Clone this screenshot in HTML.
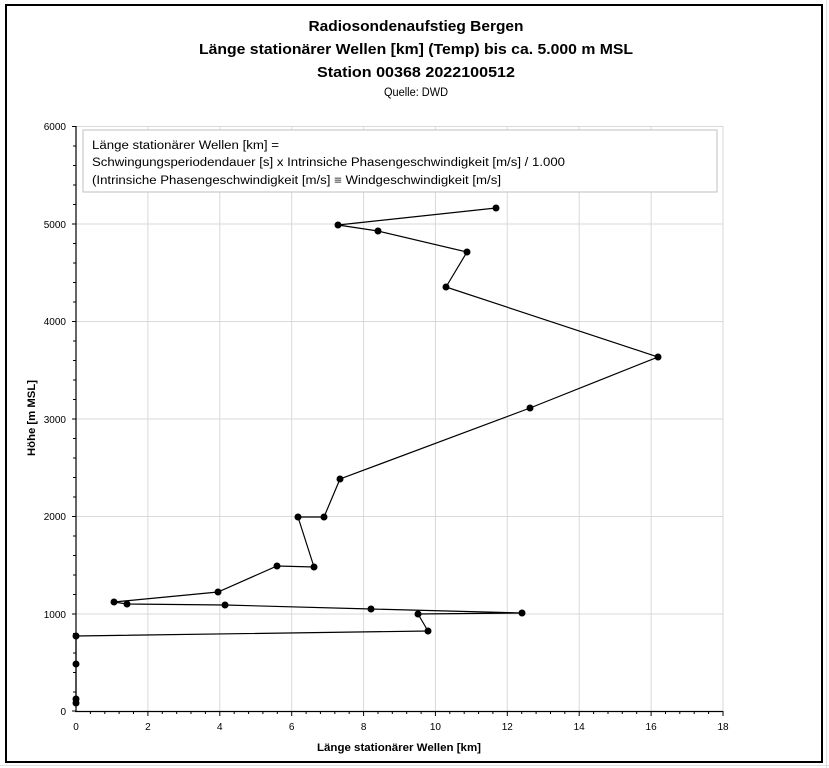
<!DOCTYPE html>
<html><head><meta charset="utf-8"><style>
html,body{margin:0;padding:0;background:#fff;}
svg{display:block;font-family:"Liberation Sans",sans-serif;}
</style></head><body>
<svg width="829" height="768" viewBox="0 0 829 768" xmlns="http://www.w3.org/2000/svg">
<rect x="0" y="0" width="829" height="768" fill="#fff"/>
<g stroke="#e2e2e2" stroke-width="1">
<line x1="0" y1="765.5" x2="829" y2="765.5"/>
<line x1="826.5" y1="0" x2="826.5" y2="768"/>
</g>
<rect x="6" y="5" width="816" height="757" fill="#fff" stroke="#000" stroke-width="2"/>
<g font-weight="bold" fill="#000" text-anchor="middle" font-size="15">
<text x="416" y="31" textLength="215" lengthAdjust="spacingAndGlyphs">Radiosondenaufstieg Bergen</text>
<text x="416" y="54" textLength="434" lengthAdjust="spacingAndGlyphs">Länge stationärer Wellen [km] (Temp) bis ca. 5.000 m MSL</text>
<text x="416" y="77" textLength="198" lengthAdjust="spacingAndGlyphs">Station 00368 2022100512</text>
</g>
<text x="416" y="96" text-anchor="middle" font-size="11.5" textLength="64" lengthAdjust="spacingAndGlyphs">Quelle: DWD</text>
<g stroke="#d9d9d9" stroke-width="1">
<line x1="147.9" y1="126" x2="147.9" y2="711"/>
<line x1="219.8" y1="126" x2="219.8" y2="711"/>
<line x1="291.7" y1="126" x2="291.7" y2="711"/>
<line x1="363.6" y1="126" x2="363.6" y2="711"/>
<line x1="435.4" y1="126" x2="435.4" y2="711"/>
<line x1="507.3" y1="126" x2="507.3" y2="711"/>
<line x1="579.2" y1="126" x2="579.2" y2="711"/>
<line x1="651.1" y1="126" x2="651.1" y2="711"/>
<line x1="723" y1="126" x2="723" y2="711"/>
<line x1="76" y1="126.5" x2="723" y2="126.5"/>
<line x1="76" y1="224" x2="723" y2="224"/>
<line x1="76" y1="321.5" x2="723" y2="321.5"/>
<line x1="76" y1="419" x2="723" y2="419"/>
<line x1="76" y1="516.5" x2="723" y2="516.5"/>
<line x1="76" y1="614" x2="723" y2="614"/>
</g>
<rect x="83" y="130" width="634" height="62" fill="#fff" stroke="#bfbfbf" stroke-width="1"/>
<g font-size="11.5" fill="#000">
<text x="92" y="149" textLength="187" lengthAdjust="spacingAndGlyphs">Länge stationärer Wellen [km] =</text>
<text x="92" y="166" textLength="473" lengthAdjust="spacingAndGlyphs">Schwingungsperiodendauer [s] x Intrinsiche Phasengeschwindigkeit [m/s]  / 1.000</text>
<text x="92" y="184" textLength="409" lengthAdjust="spacingAndGlyphs">(Intrinsiche Phasengeschwindigkeit [m/s] ≡ Windgeschwindigkeit [m/s]</text>
</g>
<g stroke="#000" stroke-width="1.2">
<line x1="76" y1="126" x2="76" y2="712"/>
<line x1="75" y1="711.5" x2="723" y2="711.5"/>
</g>
<g stroke="#000" stroke-width="1" id="ticks">
<path d="M72 126.5h4M72 224h4M72 321.5h4M72 419h4M72 516.5h4M72 614h4M72 711h4M73 146h3M73 165.5h3M73 185h3M73 204.5h3M73 243.5h3M73 263h3M73 282.5h3M73 302h3M73 341h3M73 360.5h3M73 380h3M73 399.5h3M73 438.5h3M73 458h3M73 477.5h3M73 497h3M73 536h3M73 555.5h3M73 575h3M73 594.5h3M73 633.5h3M73 653h3M73 672.5h3M73 692h3"/>
<path d="M147.9 711v5M219.8 711v5M291.7 711v5M363.6 711v5M435.4 711v5M507.3 711v5M579.2 711v5M651.1 711v5M723 711v5"/>
<path d="M90.4 711v3M104.8 711v3M119.1 711v3M133.5 711v3M162.3 711v3M176.7 711v3M191 711v3M205.4 711v3M234.2 711v3M248.6 711v3M262.9 711v3M277.3 711v3M306.1 711v3M320.4 711v3M334.8 711v3M349.2 711v3M378 711v3M392.3 711v3M406.7 711v3M421.1 711v3M449.8 711v3M464.2 711v3M478.6 711v3M492.9 711v3M521.7 711v3M536.1 711v3M550.5 711v3M564.8 711v3M593.6 711v3M608 711v3M622.3 711v3M636.7 711v3M665.5 711v3M679.8 711v3M694.2 711v3M708.6 711v3"/>
</g>
<g font-size="10" fill="#000" text-anchor="end">
<text x="66" y="130">6000</text>
<text x="66" y="228">5000</text>
<text x="66" y="325">4000</text>
<text x="66" y="423">3000</text>
<text x="66" y="520">2000</text>
<text x="66" y="618">1000</text>
<text x="66" y="715">0</text>
</g>
<g font-size="10" fill="#000" text-anchor="middle">
<text x="76" y="730">0</text>
<text x="147.9" y="730">2</text>
<text x="219.8" y="730">4</text>
<text x="291.7" y="730">6</text>
<text x="363.6" y="730">8</text>
<text x="435.4" y="730">10</text>
<text x="507.3" y="730">12</text>
<text x="579.2" y="730">14</text>
<text x="651.1" y="730">16</text>
<text x="723" y="730">18</text>
</g>
<text x="399" y="751" text-anchor="middle" font-size="11" font-weight="bold" textLength="164" lengthAdjust="spacingAndGlyphs">Länge stationärer Wellen [km]</text>
<text transform="translate(35,418) rotate(-90)" text-anchor="middle" font-size="11" font-weight="bold" textLength="76" lengthAdjust="spacingAndGlyphs">Höhe [m MSL]</text>
<polyline fill="none" stroke="#000" stroke-width="1.2" points="496,208 338,225 378,231 467,252 446,287 658,357 530,408 340,479 324,517 298,517 314,567 277,566 218,592 114,602 127,604 225,605 371,609 522,613 418,614 428,631 76,636 76,664 76,699 76,703"/>
<g fill="#000">
<circle cx="496" cy="208" r="3.5"/><circle cx="338" cy="225" r="3.5"/><circle cx="378" cy="231" r="3.5"/><circle cx="467" cy="252" r="3.5"/><circle cx="446" cy="287" r="3.5"/><circle cx="658" cy="357" r="3.5"/><circle cx="530" cy="408" r="3.5"/><circle cx="340" cy="479" r="3.5"/><circle cx="324" cy="517" r="3.5"/><circle cx="298" cy="517" r="3.5"/><circle cx="314" cy="567" r="3.5"/><circle cx="277" cy="566" r="3.5"/><circle cx="218" cy="592" r="3.5"/><circle cx="114" cy="602" r="3.5"/><circle cx="127" cy="604" r="3.5"/><circle cx="225" cy="605" r="3.5"/><circle cx="371" cy="609" r="3.5"/><circle cx="522" cy="613" r="3.5"/><circle cx="418" cy="614" r="3.5"/><circle cx="428" cy="631" r="3.5"/><circle cx="76" cy="636" r="3.5"/><circle cx="76" cy="664" r="3.5"/><circle cx="76" cy="699" r="3.5"/><circle cx="76" cy="703" r="3.5"/>
</g>
</svg>
</body></html>
